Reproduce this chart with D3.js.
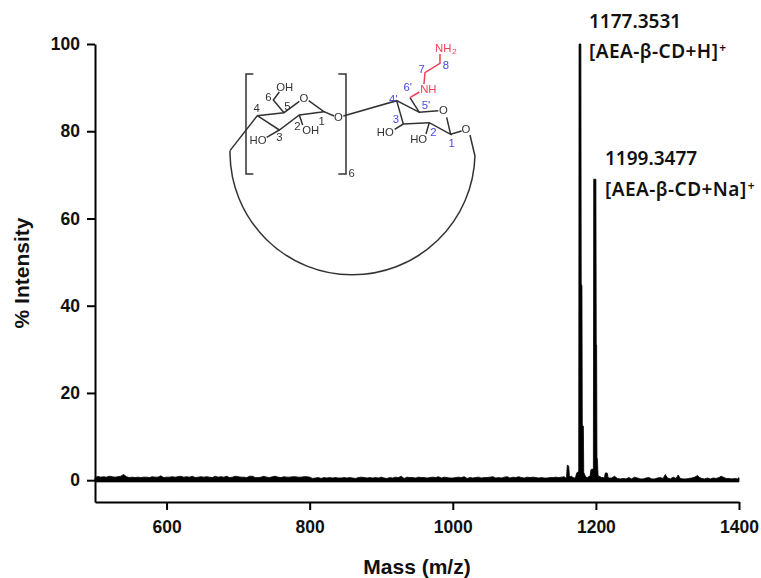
<!DOCTYPE html>
<html>
<head>
<meta charset="utf-8">
<script src="https://cdnjs.cloudflare.com/ajax/libs/d3/7.8.5/d3.min.js"></script>
<style>
body { margin: 0; background: #fff; }
svg { display: block; }
.tick text { font: bold 17.5px "Liberation Sans", sans-serif; fill: #111; }
.title { font: bold 21px "Liberation Sans", sans-serif; fill: #111; }
.note { font: 600 19px "Noto Sans", sans-serif; fill: #111; }
.mol text { font: 34px "Liberation Sans", sans-serif; }
</style>
</head>
<body>
<div id="chart"></div>
<script>
// baseline noise, one reading every 4 m/z starting at 500
var noiseStart = 500, noiseStep = 4;
var noiseInt = [
  0.5,0.9,0.7,0.8,0.7,0.9,0.8,0.7,0.8,0.9,1.3,0.8,0.6,0.7,0.6,0.7,0.6,0.7,0.7,0.6,
  0.8,0.7,0.7,1.0,0.6,0.7,0.7,0.8,0.7,0.8,0.9,0.7,0.8,0.7,0.9,0.6,0.7,0.8,0.7,0.8,
  0.7,0.6,0.9,0.7,0.8,0.7,0.9,0.6,0.7,0.9,0.8,0.7,0.7,0.6,0.9,0.9,0.6,0.6,0.7,0.9,
  0.7,0.6,0.8,0.9,0.7,0.6,0.8,0.7,0.7,0.8,0.8,0.7,0.7,0.8,0.8,0.7,0.4,0.5,0.6,0.4,
  0.6,0.5,0.6,0.5,0.6,0.5,0.5,0.6,0.5,0.6,0.5,0.4,0.6,0.7,0.6,0.5,0.6,0.5,0.6,0.5,
  0.7,0.5,0.4,0.6,0.5,0.7,0.6,0.9,0.4,0.7,0.6,0.6,0.5,0.7,0.6,0.6,0.5,0.6,0.7,0.6,
  0.8,0.5,0.7,0.6,0.5,0.5,0.6,0.7,0.6,0.8,0.4,0.6,0.5,0.6,0.7,0.5,0.6,0.6,0.7,0.8,
  0.5,0.6,0.5,0.7,0.8,0.5,0.7,0.6,0.8,0.6,0.5,0.7,0.6,0.7,0.6,0.5,0.6,0.5,0.5,0.6,
  0.6,0.7,0.6,0.7,0.8
];
// main region read point by point
var peakMz = [1157,1159,1160,1161,1162,1163,1164,1166,1168,1170,1171,1172,1173,1174,1175,1176,1176.5,1177,1179,1179.5,1180.5,1181,1182.5,1183,1184,1186,1188,1190,1192,1193,1194,1195,1196.5,1197,1198,1200,1200.5,1201,1201.5,1202,1203,1204,1206,1208,1210,1212,1213,1214,1216,1217,1219];
var peakInt = [0.5,0.7,3.4,3.4,3.2,1.0,0.8,0.9,0.6,0.5,0.5,0.9,1.6,1.8,1.9,2.0,100,100,100,45,44.5,12.6,12.4,1.8,1.4,0.7,0.6,0.8,1.0,2.4,2.5,2.5,2.6,69,69,69,31,31,5.2,5.0,1.2,0.9,0.8,0.6,0.6,0.5,1.6,1.7,1.6,0.6,0.5];
var tailMz = [1222,1226,1230,1234,1238,1242,1246,1250,1254,1258,1262,1266,1270,1274,1278,1282,1286,1290,1294,1297,1300,1304,1308,1312,1315,1318,1322,1326,1330,1334,1338,1342,1345,1348,1352,1356,1360,1364,1368,1372,1375,1378,1382,1386,1390,1394,1398,1400];
var tailInt = [0.5,0.9,0.4,0.3,0.4,0.3,0.6,0.3,0.7,0.5,0.3,0.3,0.5,0.6,0.3,0.3,0.5,0.6,0.4,1.3,0.5,0.3,0.7,0.4,1.2,0.4,0.3,0.3,0.4,0.5,0.7,1.1,0.6,0.4,0.3,0.5,0.3,0.5,0.4,0.6,0.9,0.7,0.4,0.4,0.3,0.4,0.3,0.6];

var xTicks = [600,800,1000,1200,1400];
var yTicks = [0,20,40,60,80,100];

var labelMz = ["1177.3531","1199.3477"];
var labelIon = ["[AEA-β-CD+H]","[AEA-β-CD+Na]"];

// inset structure, traced on a 3x grid
var blackBonds = [
  [[100,132],[78,132],[78,432],[100,432]],
  [[355,132],[378,132],[378,432],[355,432]],
  [[30,362],[112,257],[192,248],[238,214]],
  [[266,212],[312,245],[238,255],[178,300],[112,257]],
  [[312,245],[342,258]],
  [[192,248],[160,210],[178,186]],
  [[178,300],[140,322]],
  [[238,255],[248,285]],
  [[370,258],[530,212],[598,247],[655,242]],
  [[680,262],[692,313],[628,278],[550,282],[530,212]],
  [[692,313],[725,303]],
  [[550,282],[524,298]],
  [[628,278],[618,312]],
  [[598,247],[570,203]],
  [[750,315],[765,378]],
  [[30,362],[30,372]]
];
var redBonds = [
  [[570,203],[598,186]],
  [[612,162],[615,128],[660,100],[660,72]]
];
var molLabels = [
  ["O",252,215,"#333"],["O",355,274,"#333"],["OH",194,182,"#333"],["OH",272,313,"#333"],["HO",114,343,"#333"],
  ["O",670,253,"#333"],["O",738,310,"#333"],["HO",496,318,"#333"],["HO",596,338,"#333"],
  ["6",145,212,"#333"],["5",202,240,"#333"],["4",110,246,"#333"],["3",178,334,"#333"],["2",232,300,"#333"],["1",305,286,"#333"],["6",395,440,"#333"],
  ["4'",520,218,"#4848e0"],["5'",618,237,"#4848e0"],["6'",563,184,"#4848e0"],["3",528,280,"#4848e0"],["2",640,318,"#4848e0"],["1",695,350,"#4848e0"],["7",605,128,"#4848e0"],["8",678,118,"#4848e0"],
  ["NH",625,190,"#f0405a"],["NH",670,65,"#f0405a"]
];

var width = 761, height = 578;
var x = d3.scaleLinear().domain([500,1400]).range([95,739]);
var y = d3.scaleLinear().domain([-5,100]).range([502,44]);

var svg = d3.select("#chart").append("svg")
    .attr("width", width)
    .attr("height", height);

svg.append("defs").append("filter").attr("id", "soft")
    .append("feGaussianBlur").attr("stdDeviation", 0.35);

// spectrum
var specMz = noiseInt.map(function (d, i) { return noiseStart + i * noiseStep; }).concat(peakMz, tailMz);
var specInt = noiseInt.concat(peakInt, tailInt);

var area = d3.area()
    .x(function (d) { return x(d[0]); })
    .y0(y(-0.4))
    .y1(function (d) { return y(d[1]); });

svg.append("path")
    .datum(d3.zip(specMz, specInt))
    .attr("d", area)
    .attr("fill", "#000")
    .attr("stroke", "#000")
    .attr("stroke-width", 0.8);

// axes
var xAxis = svg.append("g")
    .attr("transform", "translate(0,502)")
    .call(d3.axisBottom(x).tickValues(xTicks).tickFormat(d3.format("d")).tickSize(8).tickSizeOuter(0).tickPadding(11));
var yAxis = svg.append("g")
    .attr("transform", "translate(95,0)")
    .call(d3.axisLeft(y).tickValues(yTicks).tickSize(8).tickSizeOuter(0).tickPadding(7));
svg.selectAll(".domain, .tick line").attr("stroke", "#000").attr("stroke-width", 2);

svg.append("text").attr("class", "title")
    .attr("x", 417).attr("y", 574)
    .attr("text-anchor", "middle")
    .text("Mass (m/z)");
svg.append("text").attr("class", "title")
    .attr("transform", "translate(29,273) rotate(-90)")
    .attr("text-anchor", "middle")
    .text("% Intensity");

// peak labels
var noteX = [589,605], mzY = [28,165], ionY = [58,196];
labelMz.forEach(function (d, i) {
  svg.append("text").attr("class", "note").attr("x", noteX[i]).attr("y", mzY[i]).text(d);
  var t = svg.append("text").attr("class", "note").attr("x", noteX[i]).attr("y", ionY[i])
      .style("letter-spacing", "0.45px").text(labelIon[i]);
  t.append("tspan").attr("dy", -6).attr("dx", 1).style("font-size", "12px").text("+");
});

// inset structure
var mol = svg.append("g").attr("class", "mol")
    .attr("filter", "url(#soft)")
    .attr("transform", "translate(220,30) scale(0.3333)");
var bond = d3.line();

mol.selectAll("path.black").data(blackBonds).enter().append("path")
    .attr("d", bond).attr("fill", "none").attr("stroke", "#333").attr("stroke-width", 4.5);
mol.append("path")
    .attr("d", "M30,372 A367.6,367.6 0 0 0 765,378")
    .attr("fill", "none").attr("stroke", "#333").attr("stroke-width", 4.5);
mol.selectAll("path.red").data(redBonds).enter().append("path")
    .attr("d", bond).attr("fill", "none").attr("stroke", "#f0405a").attr("stroke-width", 4.5);

mol.selectAll("text.lab").data(molLabels).enter().append("text")
    .attr("x", function (d) { return d[1]; })
    .attr("y", function (d) { return d[2]; })
    .attr("text-anchor", "middle")
    .attr("fill", function (d) { return d[3]; })
    .text(function (d) { return d[0]; });
mol.append("text").attr("x", 697).attr("y", 72).attr("fill", "#f0405a").style("font-size", "24px").text("2");
</script>
</body>
</html>
